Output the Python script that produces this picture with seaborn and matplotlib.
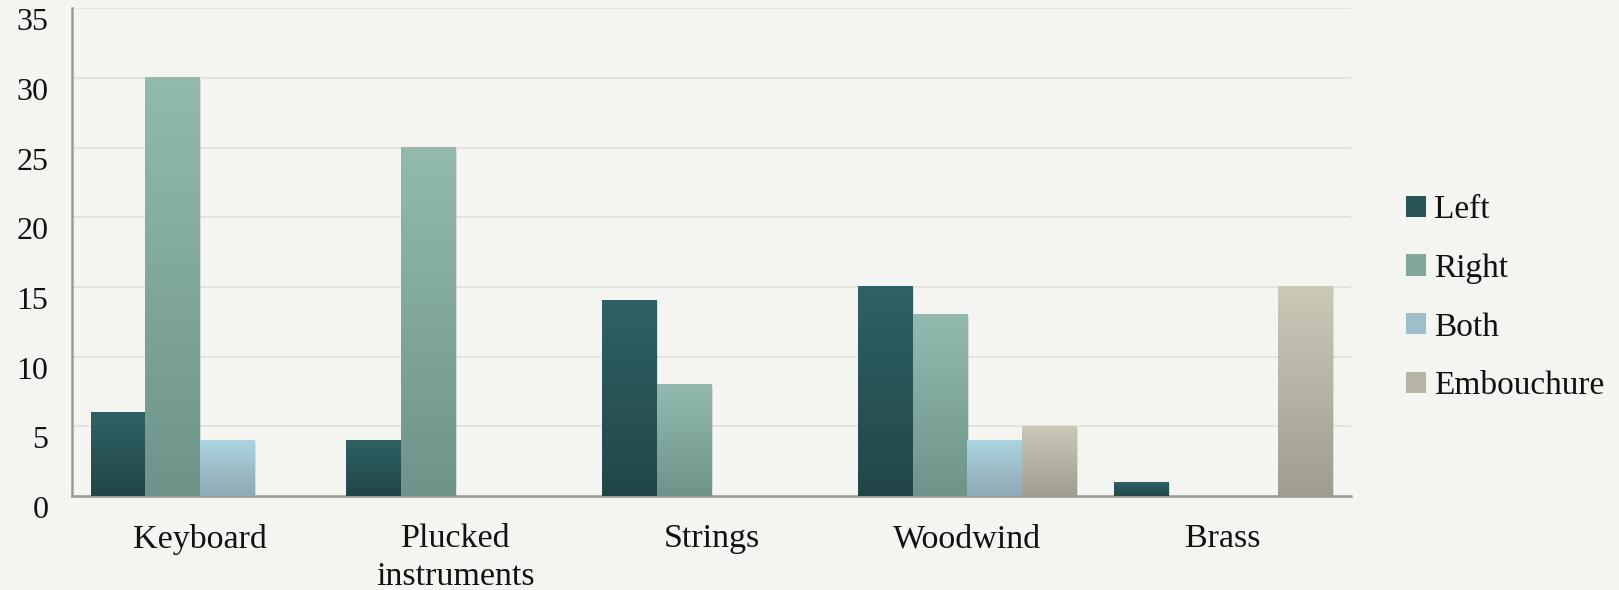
import numpy as np
import pandas as pd
import matplotlib
matplotlib.use("Agg")
import matplotlib.pyplot as plt
from matplotlib.colors import LinearSegmentedColormap
from matplotlib.patches import Rectangle
import seaborn as sns

categories = ["Keyboard", "Plucked\ninstruments", "Strings", "Woodwind", "Brass"]
series = ["Left", "Right", "Both", "Embouchure"]
left = [6, 4, 14, 15, 1]
right = [30, 25, 8, 13, 0]
both = [4, 0, 0, 4, 0]
embouchure = [0, 0, 0, 5, 15]
y_ticks = [0, 5, 10, 15, 20, 25, 30, 35]

top_colors = ["#2f6264", "#92bbae", "#abd4e0", "#cbc9b8"]
bottom_colors = ["#224648", "#6f9388", "#8ea9b5", "#9f9d90"]
mid_colors = ["#2a5557", "#82a89b", "#9dbfcb", "#b6b4a4"]

df = pd.DataFrame({
    "category": categories * 4,
    "series": sum([[s] * 5 for s in series], []),
    "value": left + right + both + embouchure,
})

sns.set_theme(style="white")
plt.rcParams["font.family"] = ["Liberation Serif", "DejaVu Serif"]

bg = "#f4f4f0"
fig = plt.figure(figsize=(16.19, 5.9), dpi=100, facecolor=bg)
ax = fig.add_axes([0.0445, 0.1593, 0.79, 0.8267])
ax.set_facecolor(bg)

sns.barplot(data=df, x="category", y="value", hue="series", hue_order=series,
            order=categories, palette=mid_colors, width=0.855, ax=ax,
            legend=False, errorbar=None, saturation=1)

ax.set_ylim(0, 35)
xlim = (-0.5, len(categories) - 0.5)

for cont, tc, bc in zip(ax.containers, top_colors, bottom_colors):
    cmap = LinearSegmentedColormap.from_list("g", [bc, tc])
    grad = np.linspace(0, 1, 256).reshape(-1, 1)
    for p in cont.patches:
        x, w, h = p.get_x(), p.get_width(), p.get_height()
        p.set_visible(False)
        if h <= 0:
            continue
        sh = Rectangle((x + 0.006, 0), w, h - 0.1, facecolor="#000000", alpha=0.10,
                       edgecolor="none", zorder=2)
        ax.add_patch(sh)
        ax.imshow(grad, extent=[x, x + w, 0, h], origin="lower", cmap=cmap,
                  aspect="auto", zorder=3, interpolation="bilinear")

ax.set_xlim(*xlim)
ax.set_ylim(0, 35)
ax.set_yticks(y_ticks)
ax.set_yticklabels([str(v) for v in y_ticks], fontsize=23, color="#111111", va="top")
ax.set_xticks(range(len(categories)))
ax.set_xticklabels(categories, fontsize=24.5, color="#111111", linespacing=1.3)
ax.tick_params(axis="both", length=0)
ax.tick_params(axis="x", pad=20)
ax.tick_params(axis="y", pad=17)
ax.set_xlabel("")
ax.set_ylabel("")

ax.yaxis.grid(True, color="#e0e0dc", linewidth=1.2, zorder=0)
ax.set_axisbelow(True)
for s in ["top", "right"]:
    ax.spines[s].set_visible(False)
for s in ["left", "bottom"]:
    ax.spines[s].set_color("#9a9a9a")
    ax.spines[s].set_linewidth(1.8)

handles = [Rectangle((0, 0), 1, 1, facecolor=c, edgecolor="none") for c in mid_colors]
leg = fig.legend(handles, series, loc="center left", bbox_to_anchor=(0.850, 0.495),
                 frameon=False, fontsize=24, handlelength=0.6, handleheight=0.6,
                 handletextpad=0.25, labelspacing=0.85)
for t in leg.get_texts():
    t.set_color("#111111")

fig.savefig("out.png", dpi=100, facecolor=bg)
